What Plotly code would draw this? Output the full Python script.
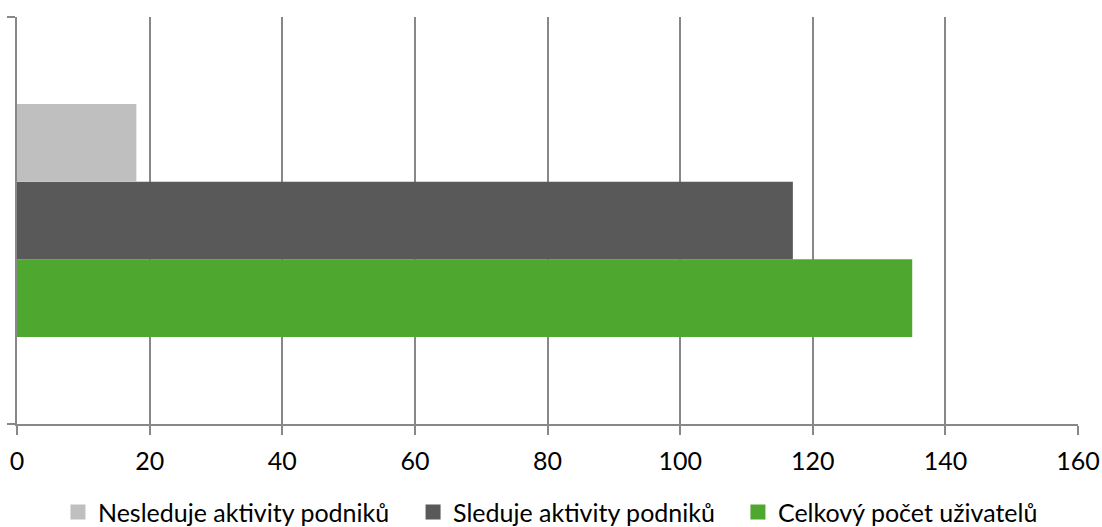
import plotly.graph_objects as go

# Data
category = ["Uživatelé"]
series_names = ["Celkový počet uživatelů", "Sleduje aktivity podniků", "Nesleduje aktivity podniků"]
series_values = [[135], [117], [18]]
series_colors = ["#4EA72E", "#595959", "#BFBFBF"]
x_ticks = [0, 20, 40, 60, 80, 100, 120, 140, 160]

# each series gets its own legend box along the bottom row (paper x of its left edge)
legend_ids = ["legend3", "legend2", "legend"]
legend_x = [0.6795, 0.3733, 0.0386]

FONT = "Lato, Calibri, sans-serif"
GRID = "#888888"

fig = go.Figure()
for name, vals, col, lid in zip(series_names, series_values, series_colors, legend_ids):
    fig.add_trace(go.Bar(
        y=category, x=vals, name=name, orientation="h",
        marker=dict(color=col, line=dict(width=0)),
        showlegend=False,
    ))
    # legend swatch
    fig.add_trace(go.Scatter(
        x=[None], y=[None], mode="markers", name=name,
        marker=dict(symbol="square", size=15, color=col),
        showlegend=True, legend=lid,
    ))

legend_style = dict(
    orientation="h", xanchor="left", y=-0.217, yanchor="middle",
    font=dict(family=FONT, size=25, color="#000000"),
    itemsizing="trace", bgcolor="rgba(0,0,0,0)",
)
legend_layout = {lid: dict(legend_style, x=lx) for lid, lx in zip(legend_ids, legend_x)}

fig.update_layout(
    width=1102, height=527,
    margin=dict(l=17, r=24, t=17, b=103, autoexpand=False),
    paper_bgcolor="white", plot_bgcolor="white",
    barmode="group", bargap=0.428, bargroupgap=0,
    font=dict(family=FONT, size=24, color="#000000"),
    showlegend=True,
    xaxis=dict(
        range=[0, 160], tickvals=x_ticks, ticktext=[str(v) for v in x_ticks],
        showgrid=True, gridcolor=GRID, gridwidth=1.5,
        showline=True, linecolor=GRID, linewidth=1.5,
        ticks="outside", ticklen=9, tickcolor=GRID, tickwidth=1.5,
        ticklabelstandoff=5, automargin=False,
        zeroline=False, fixedrange=True,
        tickfont=dict(family=FONT, size=25, color="#000000"),
    ),
    yaxis=dict(
        type="category", range=[-0.5, 0.5],
        showticklabels=False, showgrid=False, zeroline=False,
        showline=True, linecolor=GRID, linewidth=1.5,
        ticks="outside", ticklen=8, tickcolor=GRID, tickwidth=1.5,
        tickson="boundaries", fixedrange=True, automargin=False,
    ),
    **legend_layout,
)

fig.write_html("out.html")
